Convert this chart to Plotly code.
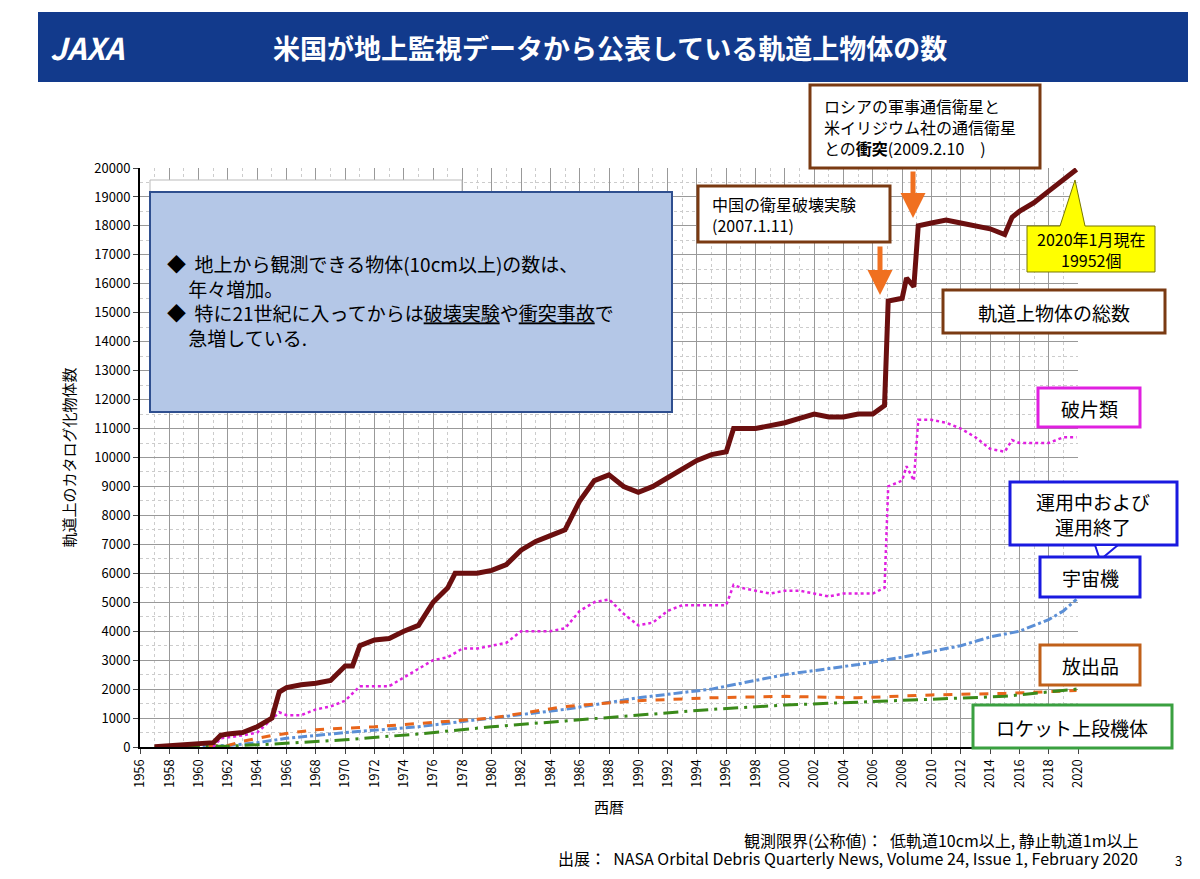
import plotly.graph_objects as go

total_x = [1957,1958,1959,1960,1961,1961.5,1962,1963,1964,1965,1965.5,1966,1967,1968,1969,1970,1970.5,1971,1972,1973,1974,1975,1976,1977,1977.5,1978,1979,1980,1981,1982,1983,1984,1985,1986,1987,1988,1989,1990,1991,1992,1993,1994,1995,1996,1996.5,1997,1998,1999,2000,2001,2002,2003,2004,2005,2006,2006.8,2007.05,2008,2008.3,2008.8,2009.1,2010,2011,2012,2013,2014,2015,2015.5,2016,2017,2018,2019,2019.9]
total_y = [10,50,70,100,150,400,450,500,700,1000,1900,2050,2150,2200,2300,2800,2800,3500,3700,3750,4000,4200,5000,5500,6000,6000,6000,6100,6300,6800,7100,7300,7500,8500,9200,9400,9000,8800,9000,9300,9600,9900,10100,10200,11000,11000,11000,11100,11200,11350,11500,11400,11400,11500,11500,11800,15400,15500,16200,15900,18000,18100,18200,18100,18000,17900,17700,18300,18500,18800,19200,19600,19952]
frag_x = [1961,1961.5,1963,1964,1965.5,1966,1967,1968,1969,1970,1971,1972,1973,1974,1975,1976,1977,1978,1979,1980,1981,1982,1983,1984,1985,1986,1987,1988,1989,1990,1991,1992,1993,1994,1995,1996,1996.5,1997,1998,1999,2000,2001,2002,2003,2004,2005,2006,2006.8,2007.05,2008,2008.3,2008.8,2009.1,2010,2011,2012,2013,2014,2015,2015.5,2016,2017,2018,2019,2019.9]
frag_y = [0,300,400,500,1200,1100,1100,1300,1400,1600,2100,2100,2100,2400,2700,3000,3100,3400,3400,3500,3600,4000,4000,4000,4100,4700,5000,5100,4600,4200,4300,4700,4900,4900,4900,4900,5600,5500,5400,5300,5400,5400,5300,5200,5300,5300,5300,5500,9000,9200,9700,9200,11300,11300,11200,11000,10700,10300,10200,10600,10500,10500,10500,10700,10700]
sc_x = [1957,1962,1964,1966,1970,1975,1980,1985,1990,1995,2000,2005,2008,2010,2012,2014,2016,2018,2019,2019.9]
sc_y = [10,50,150,300,500,700,1000,1300,1700,2000,2500,2850,3100,3300,3500,3800,4000,4400,4700,5100]
mr_x = [1957,1962,1963,1965,1968,1972,1976,1980,1985,1990,1995,2000,2005,2010,2015,2019.9]
mr_y = [10,50,200,400,600,700,850,1000,1400,1600,1700,1750,1700,1800,1850,1950]
rb_x = [1957,1962,1965,1970,1975,1980,1985,1990,1995,2000,2005,2010,2015,2019.9]
rb_y = [10,30,100,250,450,700,900,1100,1300,1450,1550,1650,1750,2000]

fig = go.Figure()
fig.add_trace(go.Scatter(x=sc_x, y=sc_y, mode="lines", line=dict(color="#5b8fd6", width=3, dash="dashdot")))
fig.add_trace(go.Scatter(x=mr_x, y=mr_y, mode="lines", line=dict(color="#e8651a", width=3, dash="dash")))
fig.add_trace(go.Scatter(x=rb_x, y=rb_y, mode="lines", line=dict(color="#3a8a1a", width=3, dash="longdashdot")))
fig.add_trace(go.Scatter(x=frag_x, y=frag_y, mode="lines", line=dict(color="#e020e0", width=2.5, dash="dot")))
fig.add_trace(go.Scatter(x=total_x, y=total_y, mode="lines", line=dict(color="#6b0f0f", width=5)))

OFF = 8
W, H = 1200 - 2 * OFF, 879 - 2 * OFF
L, R, T, B = 140, 1078, 168, 747
def px(x): return (x - L) / (R - L)
def py(y): return (B - y) / (B - T)
F = "Noto Sans CJK JP"
shapes, ann = [], []
def box(x0, y0, x1, y1, color, fill="white", w=3):
    shapes.append(dict(type="rect", xref="paper", yref="paper", x0=px(x0), x1=px(x1), y0=py(y1), y1=py(y0), line=dict(color=color, width=w), fillcolor=fill, layer="above"))
def text(x, y, s, size=17, color="black", xa="center", ya="middle", bold=False):
    ann.append(dict(xref="paper", yref="paper", x=px(x), y=py(y), text=("<b>%s</b>" % s) if bold else s, showarrow=False, xanchor=xa, yanchor=ya, align="left" if xa == "left" else "center", font=dict(family=F, size=size, color=color)))
def arrow(x, y0, y1):
    ann.append(dict(xref="paper", yref="paper", x=px(x), y=py(y1), ax=0, ay=-(y1 - y0), axref="pixel", ayref="pixel", text="", showarrow=True, arrowhead=2, arrowsize=1, arrowwidth=5, arrowcolor="#f07020"))

# header
shapes.append(dict(type="rect", xref="paper", yref="paper", x0=px(38), x1=px(1188), y0=py(82), y1=py(12), fillcolor="#123a8c", line=dict(width=0), layer="below"))
text(48, 47, "<i>JAXA</i>", 30, "white", xa="left", bold=True)
text(610, 47, "米国が地上監視データから公表している軌道上物体の数", 27, "white", bold=True)
# info box
box(150, 180, 462, 192, "#bbbbbb", w=1)
box(150, 192, 672, 412, "#2f4f8f", fill="#b4c7e7", w=2)
text(165, 300, "◆  地上から観測できる物体(10cm以上)の数は、<br>     年々増加。<br>◆  特に21世紀に入ってからは<u>破壊実験</u>や<u>衝突事故</u>で<br>     急増している.", 19, xa="left")
# callouts
box(810, 85, 1040, 168, "#7a3a12")
text(822, 127, "ロシアの軍事通信衛星と<br>米イリジウム社の通信衛星<br>との<b>衝突</b>(2009.2.10　)", 16, xa="left")
arrow(913, 170, 218)
box(698, 186, 890, 242, "#7a3a12")
text(710, 214, "中国の衛星破壊実験<br>(2007.1.11)", 16, xa="left")
arrow(880, 245, 295)
path = "M %f %f L %f %f L %f %f L %f %f L %f %f L %f %f L %f %f Z" % (
    px(1027), py(226), px(1060), py(226), px(1075), py(180), px(1085), py(226), px(1155), py(226), px(1155), py(272), px(1027), py(272))
shapes.append(dict(type="path", xref="paper", yref="paper", path=path, fillcolor="#ffff00", line=dict(color="#777700", width=1), layer="above"))
text(1091, 249, "2020年1月現在<br>19952個", 16)
box(943, 290, 1165, 333, "#7a3a12")
text(1054, 312, "軌道上物体の総数", 19)
box(1038, 388, 1140, 427, "#e020e0")
text(1089, 408, "破片類", 19)
box(1010, 482, 1177, 545, "#1a1ae0")
shapes.append(dict(type="path", xref="paper", yref="paper", path="M %f %f L %f %f L %f %f Z" % (px(1095), py(545), px(1100), py(560), px(1118), py(545)), fillcolor="white", line=dict(color="#1a1ae0", width=2), layer="above"))
text(1093, 514, "運用中および<br>運用終了", 19)
box(1040, 557, 1140, 597, "#1a1ae0")
text(1090, 577, "宇宙機", 19)
box(1040, 645, 1140, 685, "#c0601a")
text(1090, 665, "放出品", 19)
box(973, 705, 1172, 748, "#3aa040")
text(1072, 727, "ロケット上段機体", 19)
# footer
text(1140, 840, "観測限界(公称値)：  低軌道10cm以上, 静止軌道1m以上", 16, xa="right")
text(1140, 858, "出展：  NASA Orbital Debris Quarterly News, Volume 24, Issue 1, February 2020", 16, xa="right")
text(1178, 860, "3", 13)

fig.update_layout(
    width=W, height=H, showlegend=False, plot_bgcolor="white", paper_bgcolor="white",
    margin=dict(l=L - OFF, r=1200 - OFF - R, t=T - OFF, b=879 - OFF - B, autoexpand=False),
    font=dict(family=F, size=13, color="black"),
    shapes=shapes, annotations=ann,
    xaxis=dict(range=[1956, 2020], dtick=2, tick0=1956, tickangle=-90, showgrid=True, gridcolor="#999999", gridwidth=1,
               minor=dict(dtick=1, showgrid=True, gridcolor="#cccccc", griddash="dot"),
               showline=True, linecolor="black", linewidth=2, ticks="outside",
               title=dict(text="西暦", font=dict(size=15)), zeroline=False),
    yaxis=dict(range=[0, 20000], dtick=1000, tickformat="d", showgrid=True, gridcolor="#999999",
               minor=dict(dtick=500, showgrid=True, gridcolor="#cccccc", griddash="dot"),
               showline=True, linecolor="black", linewidth=2, ticks="outside",
               title=dict(text="軌道上のカタログ化物体数", font=dict(size=15)), zeroline=False),
)
fig.write_html("out.html")
